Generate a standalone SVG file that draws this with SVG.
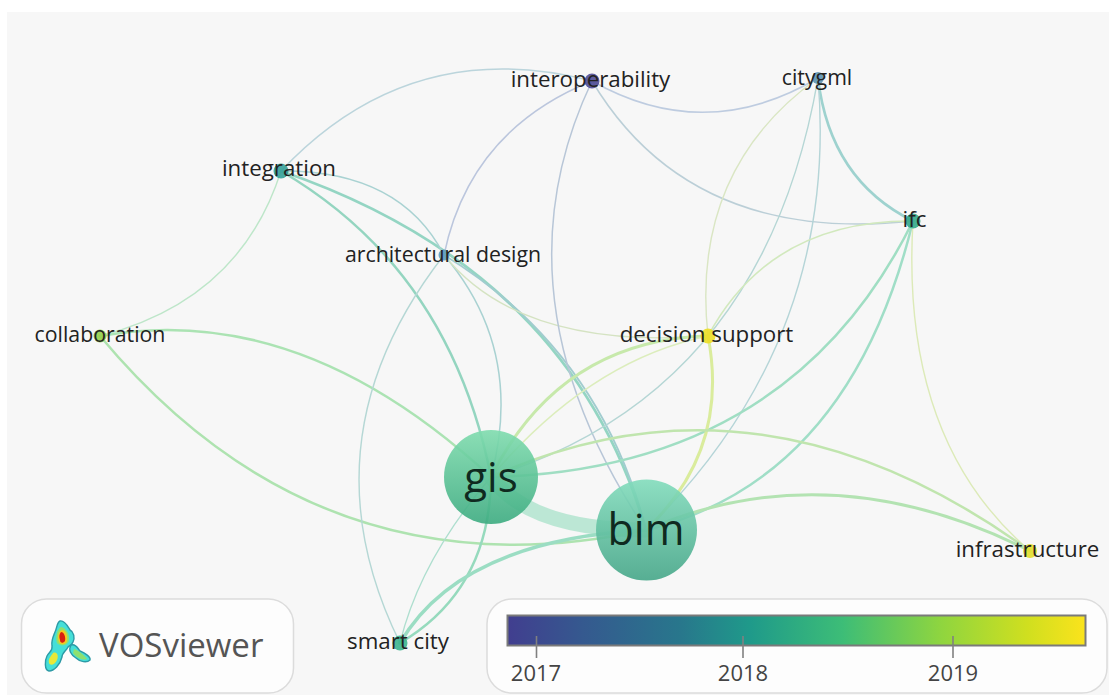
<svg xmlns="http://www.w3.org/2000/svg" width="1109" height="700" viewBox="0 0 1109 700">
<style>
text{font-family:"Open Sans","Noto Sans","DejaVu Sans",sans-serif;fill:#222}
.l{font-size:22.3px;text-anchor:middle}
.s{font-size:21.3px}
.e{fill:none;stroke-linecap:round}
.panel{fill:#fdfdfd;stroke:#dcdcdc;stroke-width:1.5}
.tick{stroke:#808080;stroke-width:1.6}
.yr{font-size:22px;fill:#444;text-anchor:middle}
.n{opacity:.9}
</style>
<defs>
<linearGradient id="bar"><stop offset="0" stop-color="#413e8f"/><stop offset=".13" stop-color="#35598f"/><stop offset=".3" stop-color="#28778c"/><stop offset=".42" stop-color="#1f9a8a"/><stop offset=".58" stop-color="#3dbd77"/><stop offset=".75" stop-color="#8fd53f"/><stop offset=".9" stop-color="#d0df1f"/><stop offset="1" stop-color="#fbe31c"/></linearGradient>
<linearGradient id="g1" x1="0" y1="0" x2="0" y2="1"><stop offset="0" stop-color="#7fdcae"/><stop offset="1" stop-color="#3cab80"/></linearGradient>
<linearGradient id="g2" x1="0" y1="0" x2="0" y2="1"><stop offset="0" stop-color="#82dcbc"/><stop offset="1" stop-color="#45a688"/></linearGradient>
</defs>
<rect width="1109" height="700" fill="#fff"/>
<rect x="7" y="12" width="1102" height="683" fill="#f7f7f7"/>
<g id="connectors" opacity=".72">
<path class="e" d="M491 477Q530 530 646 530" stroke="#6fd3a8" stroke-opacity=".6" stroke-width="15"/>
<path class="e" d="M100 336Q300 300 491 477" stroke="#8fdc9a" stroke-width="2.5"/>
<path class="e" d="M100 336Q320 600 646 530" stroke="#93dc95" stroke-width="2.5"/>
<path class="e" d="M100 336Q240 300 281 171" stroke="#a8e0b8" stroke-width="1.4"/>
<path class="e" d="M281 171Q410 34 592 81" stroke="#a5c8d2" stroke-width="1.5"/>
<path class="e" d="M281 171Q450 270 491 477" stroke="#6fc9ac" stroke-width="2.5"/>
<path class="e" d="M281 171Q570 270 646 530" stroke="#6fc9b0" stroke-width="2.8"/>
<path class="e" d="M281 171Q400 170 444 255" stroke="#8cc5c5" stroke-width="1.4"/>
<path class="e" d="M444 255Q300 440 400 643" stroke="#9cccc8" stroke-width="1.4"/>
<path class="e" d="M444 255Q525 350 491 477" stroke="#8cc4c4" stroke-width="1.5"/>
<path class="e" d="M444 255Q600 350 646 530" stroke="#80bcc0" stroke-width="1.8"/>
<path class="e" d="M444 255Q520 350 708 336" stroke="#c8dcae" stroke-width="1.3"/>
<path class="e" d="M592 81Q470 130 444 255" stroke="#a5b4d4" stroke-width="1.5"/>
<path class="e" d="M592 81Q490 296 646 530" stroke="#a0b4cc" stroke-width="1.5"/>
<path class="e" d="M592 81Q705 145 818 78" stroke="#a9bcd8" stroke-width="1.6"/>
<path class="e" d="M592 81Q690 245 913 221" stroke="#a5c0cc" stroke-width="1.5"/>
<path class="e" d="M818 78Q830 180 913 221" stroke="#7dc5c0" stroke-width="2.6"/>
<path class="e" d="M818 78Q690 170 708 336" stroke="#cfe0b0" stroke-width="1.4"/>
<path class="e" d="M818 78Q764 392 491 477" stroke="#9ccac8" stroke-width="1.4"/>
<path class="e" d="M818 78Q840 340 646 530" stroke="#9cc8cc" stroke-width="1.4"/>
<path class="e" d="M913 221Q770 220 708 336" stroke="#c4e4a8" stroke-width="1.6"/>
<path class="e" d="M913 221Q790 470 491 477" stroke="#7fd5b0" stroke-width="2.5"/>
<path class="e" d="M913 221Q850 480 646 530" stroke="#7fd5b5" stroke-width="2.5"/>
<path class="e" d="M913 221Q900 440 1030 551" stroke="#d3e6a0" stroke-width="1.4"/>
<path class="e" d="M491 477Q560 340 708 336" stroke="#b5e48e" stroke-width="3"/>
<path class="e" d="M491 477Q590 360 708 336" stroke="#d2eaa6" stroke-width="1.5"/>
<path class="e" d="M708 336Q730 450 646 530" stroke="#cfe87a" stroke-width="3"/>
<path class="e" d="M646 530Q830 450 1030 551" stroke="#9adc98" stroke-width="3"/>
<path class="e" d="M491 477Q760 355 1030 551" stroke="#acdf92" stroke-width="2.5"/>
<path class="e" d="M491 477Q490 590 400 643" stroke="#72d0a8" stroke-width="2.5"/>
<path class="e" d="M491 477Q420 560 400 643" stroke="#92d6c0" stroke-width="1.3"/>
<path class="e" d="M646 530Q460 540 400 643" stroke="#78d4b0" stroke-width="3.5"/>
</g>
<g id="node-gis"><circle class="n" cx="491" cy="477" r="47" fill="url(#g1)"/><text x="491" y="492" style="font-size:42px;text-anchor:middle;fill:#0f2a20">gis</text></g>
<g id="node-bim"><circle class="n" cx="646.500" cy="530" r="50.500" fill="url(#g2)"/><text x="646" y="545" style="font-size:43px;text-anchor:middle;fill:#0f2a20">bim</text></g>
<g id="node-interoperability"><circle class="n" cx="592" cy="81" r="7.500" fill="#4f4d96"/><text class="l" x="590.500" y="87">interoperability</text></g>
<g id="node-citygml"><circle class="n" cx="818" cy="78" r="6" fill="#5d94b4"/><text class="l s" x="817" y="85">citygml</text></g>
<g id="node-integration"><circle class="n" cx="281" cy="171" r="7.500" fill="#35a098"/><text class="l" x="279" y="176">integration</text></g>
<g id="node-ifc"><circle class="n" cx="913" cy="221" r="7.500" fill="#32a888"/><text class="l" x="914.500" y="227">ifc</text></g>
<g id="node-architectural"><circle class="n" cx="444" cy="255" r="5.500" fill="#5d9cc0"/><text class="l s" x="443" y="262">architectural design</text></g>
<g id="node-decision"><circle class="n" cx="708" cy="336" r="7.500" fill="#ecde25"/><text class="l" x="706.500" y="342">decision support</text></g>
<g id="node-collaboration"><circle class="n" cx="100" cy="336" r="6.500" fill="#96d04a"/><text class="l s" x="100" y="342">collaboration</text></g>
<g id="node-infrastructure"><circle class="n" cx="1030" cy="551" r="7" fill="#e2de2a"/><text class="l" x="1027.500" y="557">infrastructure</text></g>
<g id="node-smart-city"><circle class="n" cx="400" cy="643" r="7.500" fill="#3cb48e"/><text class="l" x="398" y="649">smart city</text></g>
<g id="logo">
<rect class="panel" x="21.500" y="599" width="272" height="94" rx="25"/>
<path d="M60 621C65 620 68 627 70 630C74 632 75 638 73 642C72 645 70 646 68 647C66 651 62 653 62 657C60 665 54 671 49 671C44 670 45 660 47 656C49 652 53 651 52 646C51 640 54 635 55 632C57 628 57 622 60 621Z" fill="#45dfd8" stroke="#2d9aa6" stroke-width="1.4"/>
<path d="M71 645C76 643 78 649 80 651C85 653 91 657 90 660C87 663 80 662 76 658C71 655 68 650 71 645Z" fill="#45dfd8" stroke="#2d9aa6" stroke-width="1.4"/>
<path d="M61 627C66 628 70 634 69 640C68 646 60 647 57 643C55 638 57 629 61 627Z" fill="#8fe070"/>
<path d="M62 630C66 630 68 636 67 641C66 645 60 645 59 642C57 638 58 631 62 630Z" fill="#f5c820"/>
<path d="M61 632C64 632 66 637 65 641C63 644 60 643 60 640C59 637 59 634 61 632Z" fill="#d81e10"/>
<path d="M53 653C57 651 59 656 57 660C55 665 50 666 49 663C48 659 51 656 53 653Z" fill="#e8e838"/>
<path d="M74 649C78 650 85 656 87 659C82 661 76 657 73 653Z" fill="#8ee070"/>
<text x="99" y="657" style="font-size:33px;fill:#555">VOSviewer</text>
</g>
<g id="legend">
<rect class="panel" x="487" y="599" width="620" height="94" rx="25"/>
<rect x="507.500" y="615.500" width="578" height="30" fill="url(#bar)" stroke="#7a7a7a" stroke-width="2"/>
<line class="tick" x1="536.500" y1="636" x2="536.500" y2="658"/>
<line class="tick" x1="743" y1="636" x2="743" y2="658"/>
<line class="tick" x1="953" y1="636" x2="953" y2="658"/>
<text class="yr" x="536" y="681">2017</text>
<text class="yr" x="743" y="681">2018</text>
<text class="yr" x="953" y="681">2019</text>
</g>
</svg>
